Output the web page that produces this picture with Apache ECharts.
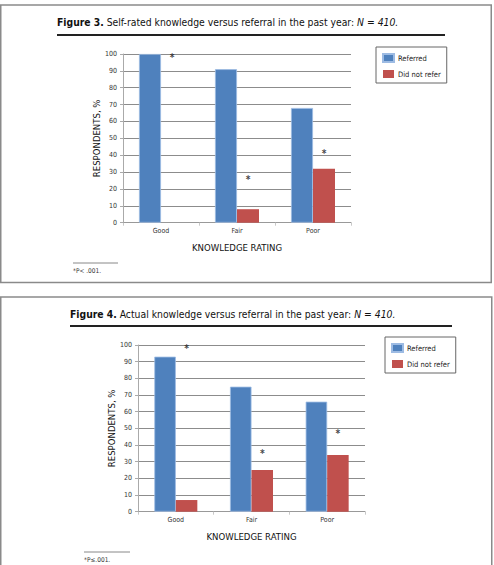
<!DOCTYPE html>
<html>
<head>
<meta charset="utf-8">
<script src="https://cdn.jsdelivr.net/npm/echarts@6/dist/echarts.min.js"></script>
<style>
html, body { margin: 0; padding: 0; background: #fff; }
#chart { width: 494px; height: 565px; }
</style>
</head>
<body>
<div id="chart"></div>
<script>
// categories and series
const categories = ['Good', 'Fair', 'Poor']
const legendNames = ['Referred', 'Did not refer']

// Figure 3: self-rated knowledge
const selfReferred = [100, 91, 68]
const selfNotRefer = [0, 8, 32]
const selfStars = [99, 27, 42]

// Figure 4: actual knowledge
const actualReferred = [93, 75, 66]
const actualNotRefer = [7, 25, 34]
const actualStars = [99, 36, 48]

const BLUE = '#4f81bd'
const RED = '#c0504d'
const FONT = "'DejaVu Sans Condensed', 'Noto Sans', sans-serif"

const chart = echarts.init(document.getElementById('chart'), null, { renderer: 'svg' })

const makeX = (gridIndex) => ({
  type: 'category',
  gridIndex,
  data: categories,
  axisLine: { lineStyle: { color: '#999', width: 1 } },
  axisTick: { show: true, length: 3, lineStyle: { color: '#c8c8c8' } },
  axisLabel: { fontSize: 7, color: '#333', margin: 5, fontFamily: FONT },
  name: 'KNOWLEDGE RATING',
  nameLocation: 'middle',
  nameGap: 20,
  nameTextStyle: { fontSize: 9.5, color: '#111', fontFamily: FONT }
})

const makeY = (gridIndex) => ({
  type: 'value',
  gridIndex,
  min: 0,
  max: 100,
  interval: 10,
  axisLine: { show: true, lineStyle: { color: '#aaa', width: 1 } },
  axisTick: { show: true, length: 3, lineStyle: { color: '#aaa' } },
  axisLabel: { fontSize: 7, color: '#333', margin: 6, fontFamily: FONT },
  splitLine: { lineStyle: { color: '#8c8c8c', width: 1 } },
  name: 'RESPONDENTS, %',
  nameLocation: 'middle',
  nameRotate: 90,
  nameGap: 22,
  nameTextStyle: { fontSize: 9.5, color: '#111', fontFamily: FONT }
})

const makeBars = (idx, referred, notRefer, stars, barWidth) => [
  {
    name: 'Referred',
    type: 'bar',
    xAxisIndex: idx,
    yAxisIndex: idx,
    data: referred,
    barWidth,
    barGap: '0%',
    itemStyle: { color: BLUE, borderColor: '#9dbbe3', borderWidth: 0.8 }
  },
  {
    name: 'Did not refer',
    type: 'bar',
    xAxisIndex: idx,
    yAxisIndex: idx,
    data: notRefer,
    barWidth,
    barGap: '0%',
    itemStyle: { color: RED }
  },
  {
    name: 'sig',
    type: 'scatter',
    xAxisIndex: idx,
    yAxisIndex: idx,
    data: stars,
    symbolSize: 1,
    itemStyle: { color: 'transparent' },
    label: {
      show: true,
      formatter: '*',
      position: 'inside',
      offset: [barWidth / 2, 2],
      fontSize: 10,
      fontWeight: 'bold',
      color: '#111',
      fontFamily: FONT
    },
    silent: true,
    z: 5
  }
]

const makeLegend = (left, top) => ({
  data: legendNames,
  orient: 'vertical',
  left,
  top,
  padding: [6, 6, 5, 6],
  itemGap: 7,
  itemWidth: 11,
  itemHeight: 8,
  icon: 'rect',
  borderColor: '#666',
  borderWidth: 1,
  selectedMode: false,
  textStyle: { fontSize: 7.5, color: '#222', fontFamily: FONT, padding: [0, 0, 0, -1] }
})

const titleRich = {
  b: { fontWeight: 'bold', fontSize: 10.3, fontFamily: FONT, fill: '#111' },
  i: { fontStyle: 'italic', fontSize: 10.3, fontFamily: FONT, fill: '#111' }
}

const option = {
  animation: false,
  grid: [
    { left: 123, right: 143, top: 54, height: 168.7 },
    { left: 138, right: 129, top: 345, height: 166.7 }
  ],
  legend: [makeLegend(376, 47), makeLegend(385, 337)],
  xAxis: [makeX(0), makeX(1)],
  yAxis: [makeY(0), makeY(1)],
  series: [
    ...makeBars(0, selfReferred, selfNotRefer, selfStars, 22),
    ...makeBars(1, actualReferred, actualNotRefer, actualStars, 21.5)
  ],
  graphic: [
    // panel frames
    { type: 'rect', silent: true, shape: { x: 0.75, y: 5, width: 490.5, height: 277.5 },
      style: { fill: 'none', stroke: '#8a8a8a', lineWidth: 1.5 } },
    { type: 'rect', silent: true, shape: { x: 0.75, y: 297, width: 491, height: 290 },
      style: { fill: 'none', stroke: '#8a8a8a', lineWidth: 1.5 } },
    // titles
    { type: 'text', silent: true, x: 57, y: 22,
      style: { text: '{b|Figure 3.} Self-rated knowledge versus referral in the past year: {i|N} = {i|410.}',
        rich: titleRich, fontSize: 10.3, fontFamily: FONT, fill: '#111', verticalAlign: 'middle' } },
    { type: 'line', silent: true, shape: { x1: 57, y1: 35, x2: 445, y2: 35 },
      style: { stroke: '#222', lineWidth: 2 } },
    { type: 'text', silent: true, x: 70, y: 314,
      style: { text: '{b|Figure 4.} Actual knowledge versus referral in the past year: {i|N} = {i|410.}',
        rich: titleRich, fontSize: 10.3, fontFamily: FONT, fill: '#111', verticalAlign: 'middle' } },
    { type: 'line', silent: true, shape: { x1: 70, y1: 326, x2: 452, y2: 326 },
      style: { stroke: '#222', lineWidth: 2 } },
    // footnotes
    { type: 'line', silent: true, shape: { x1: 73, y1: 263, x2: 118, y2: 263 },
      style: { stroke: '#888', lineWidth: 1 } },
    { type: 'text', silent: true, x: 73, y: 271,
      style: { text: '*P< .001.', fontSize: 6.5, fontFamily: FONT, fill: '#333', verticalAlign: 'middle' } },
    { type: 'line', silent: true, shape: { x1: 84, y1: 552, x2: 130, y2: 552 },
      style: { stroke: '#888', lineWidth: 1 } },
    { type: 'text', silent: true, x: 84, y: 560,
      style: { text: '*P≤.001.', fontSize: 6.5, fontFamily: FONT, fill: '#333', verticalAlign: 'middle' } }
  ]
}

chart.setOption(option)
</script>
</body>
</html>
